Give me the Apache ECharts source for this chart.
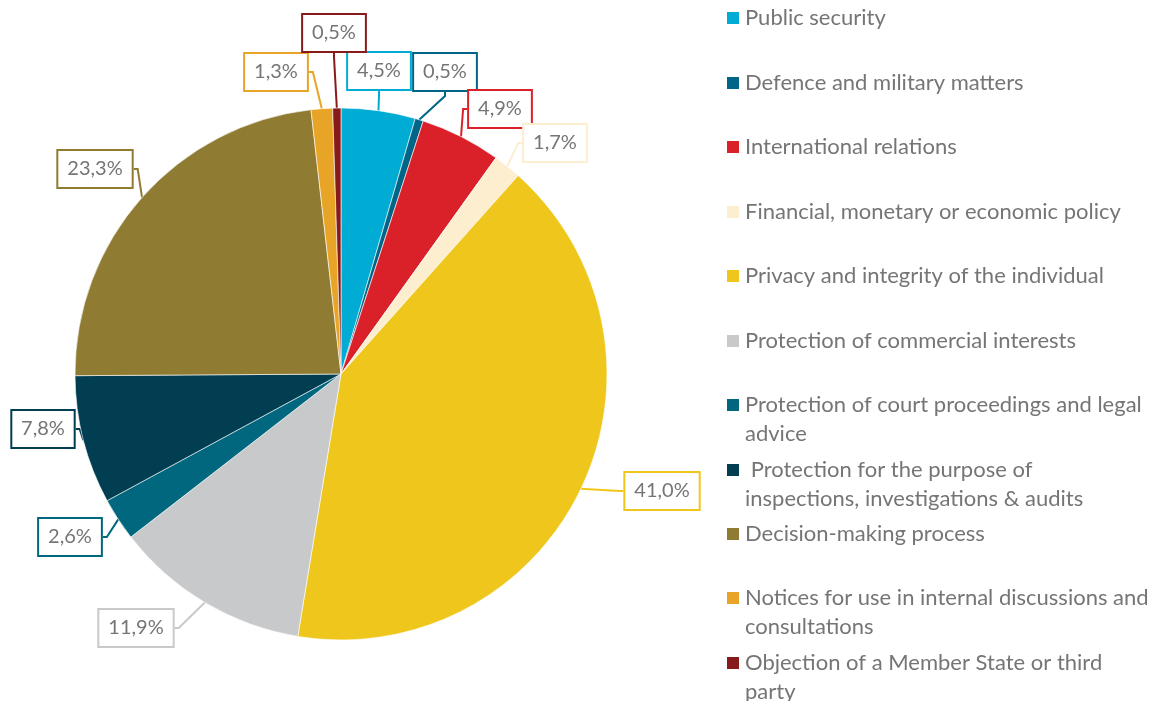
<!DOCTYPE html>
<html>
<head>
<meta charset="utf-8">
<script src="https://cdn.jsdelivr.net/npm/echarts@6/dist/echarts.min.js"></script>
<style>
  html, body { margin: 0; padding: 0; background: #fff; }
  #main { width: 1154px; height: 701px; }
</style>
</head>
<body>
<div id="main"></div>
<script>
  // categories, clockwise from 12 o'clock
  var categories = [
    'Public security',
    'Defence and military matters',
    'International relations',
    'Financial, monetary or economic policy',
    'Privacy and integrity of the individual',
    'Protection of commercial interests',
    'Protection of court proceedings and legal advice',
    ' Protection for the purpose of inspections, investigations & audits',
    'Decision-making process',
    'Notices for use in internal discussions and consultations',
    'Objection of a Member State or third party'
  ];
  // legend text as wrapped in the picture
  var legendText = [
    'Public security',
    'Defence and military matters',
    'International relations',
    'Financial, monetary or economic policy',
    'Privacy and integrity of the individual',
    'Protection of commercial interests',
    'Protection of court proceedings and legal\nadvice',
    ' Protection for the purpose of\ninspections, investigations & audits',
    'Decision-making process',
    'Notices for use in internal discussions and\nconsultations',
    'Objection of a Member State or third\nparty'
  ];
  var shares = [4.5, 0.5, 4.9, 1.7, 41.0, 11.9, 2.6, 7.8, 23.3, 1.3, 0.5];
  var colors = ['#00acd4', '#006586', '#da2129', '#fdeed0', '#efc71c', '#c8c9cb',
                '#00677f', '#023e52', '#8f7b32', '#e8a427', '#871a1b'];

  // label box centres (callouts)
  var labelPos = [[379, 71], [445, 72], [500, 109], [555, 143], [662, 491], [136, 628],
                  [70, 537], [43, 429], [95, 169], [276, 72], [334, 33]];
  // legend first-line centres
  var legendY = [18, 83, 147, 212, 276, 341, 405, 470, 534, 598, 663];

  var font = 'Lato, "Open Sans", sans-serif';
  var lh = 28.5;

  var pieData = categories.map(function (c, i) {
    return {
      name: c,
      value: shares[i],
      itemStyle: { color: colors[i] },
      label: { borderColor: colors[i] },
      labelLine: { lineStyle: { color: colors[i] } }
    };
  });

  var legends = categories.map(function (c, i) {
    var twoLines = legendText[i].indexOf('\n') >= 0;
    return {
      orient: 'vertical',
      left: 725,
      top: twoLines ? legendY[i] - 1.5 * lh : legendY[i] - lh / 2,
      padding: 0,
      itemWidth: 14,
      itemHeight: 14,
      icon: 'rect',
      selectedMode: false,
      data: [c],
      // an empty first line keeps the icon level with the first text line
      formatter: function () { return twoLines ? '\n' + legendText[i] : legendText[i]; },
      textStyle: {
        fontFamily: font,
        fontSize: 22,
        color: '#757575',
        lineHeight: lh
      }
    };
  });

  var myChart = echarts.init(document.getElementById('main'));
  myChart.setOption({
    animation: false,
    legend: legends,
    series: [{
      name: 'share',
      type: 'pie',
      center: [341, 374],
      radius: 266,
      startAngle: 90,
      clockwise: true,
      data: pieData,
      itemStyle: { borderColor: '#fff', borderWidth: 0.6 },
      label: {
        show: true,
        fontFamily: font,
        fontSize: 20,
        color: '#757575',
        backgroundColor: '#fff',
        borderWidth: 2,
        overflow: 'none',
        padding: [9, 9, 7, 9],
        formatter: function (p) { return p.value.toFixed(1).replace('.', ',') + '%'; }
      },
      labelLine: { show: true, length: 8, length2: 4, smooth: false, lineStyle: { width: 2 } },
      labelLayout: function (p) {
        return {
          x: labelPos[p.dataIndex][0],
          y: labelPos[p.dataIndex][1],
          align: 'center',
          verticalAlign: 'middle'
        };
      }
    }]
  });
</script>
</body>
</html>
